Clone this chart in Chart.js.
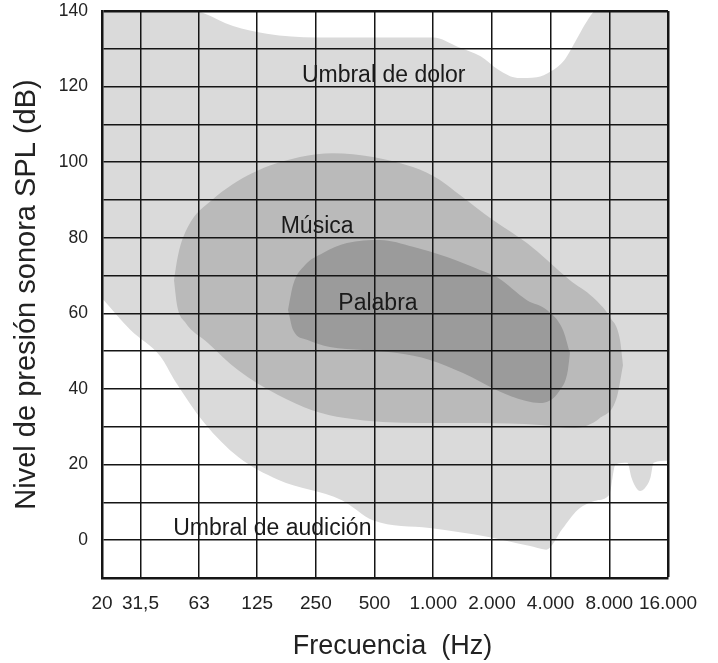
<!DOCTYPE html>
<html>
<head>
<meta charset="utf-8">
<script src="https://cdn.jsdelivr.net/npm/chart.js@4.4.1/dist/chart.umd.min.js"></script>
<style>
  html, body { margin: 0; padding: 0; background: #fff; }
  #wrap { width: 718px; height: 663px; position: relative; }
</style>
</head>
<body>
<div id="wrap"><canvas id="audioChart"></canvas></div>
<script>
// ===== axis ticks =====
const freqTicks = [20, 31.5, 63, 125, 250, 500, 1000, 2000, 4000, 8000, 16000];
const freqTickLabels = ["20", "31,5", "63", "125", "250", "500", "1.000", "2.000", "4.000", "8.000", "16.000"];
const dbTickLabels = [0, 20, 40, 60, 80, 100, 120, 140];

// ===== umbral de dolor (upper edge of the audible area) =====
const painFreq = [20, 60, 66, 94, 140, 250, 420, 1000, 1340, 1750, 2150, 2700, 3400, 4000, 4700, 5500, 6200, 6800, 16000];
const painDb   = [140, 140, 139.5, 136, 134, 133, 133, 133, 130.5, 128, 124.5, 122.3, 122.5, 124, 127, 133, 137.6, 140, 140];

// ===== umbral de audición (lower edge) =====
const hearFreq = [20, 28, 40, 47, 67, 100, 160, 340, 490, 960, 1950, 3100, 3800, 4600, 5500, 6900, 8000, 8600, 9900, 10400, 11000, 11500, 12200, 13000, 13500, 16000];
const hearDb   = [64, 55.6, 48.5, 42.4, 31, 22, 16, 10.6, 5.3, 3.2, 0.8, -1.5, -2.5, 3, 8, 10.5, 12, 20, 20.5, 16.5, 13.8, 13, 13.8, 16.5, 20.5, 21];

// ===== música zone =====
const musicTopFreq = [46.8, 49.1, 55.2, 73.3, 117.6, 207, 306, 491, 787, 1082, 1370, 2024, 3024, 5026, 6592, 8060, 9072, 9400];
const musicTopDb   = [68.8, 75.4, 82.9, 90, 97.1, 101.4, 102.4, 101.4, 98.7, 95.3, 91.3, 84.7, 78.6, 68.8, 64.3, 59, 53, 46.3];
const musicBotFreq = [46.8, 48.5, 53.3, 69.9, 99.6, 160, 239, 353, 854, 1736, 3526, 5330, 7160, 8754, 9400];
const musicBotDb   = [68.8, 62.2, 57.7, 52.2, 45, 38.4, 34.4, 32.3, 31, 31, 30.5, 29.7, 32.3, 37.9, 46.3];

// ===== palabra zone =====
const speechTopFreq = [180, 191, 220, 272, 361, 533, 787, 1176, 1736, 2121, 3024, 3830, 4628, 5026];
const speechTopDb   = [60.9, 67.5, 72.8, 76, 78.6, 79.4, 77.6, 74.9, 71.5, 69.6, 63.5, 60.9, 55.6, 49.5];
const speechBotFreq = [180, 191, 225, 295, 436, 652, 962, 1420, 2121, 3000, 3526, 4462, 4908, 5026];
const speechBotDb   = [60.9, 55.6, 53, 51.1, 50.3, 49.5, 47.7, 44.2, 39.7, 36.8, 36.3, 39.7, 45, 49.5];

// ===== zone labels (left edge / baseline, in Hz and dB) =====
const zoneLabels = ["Umbral de dolor", "Música", "Palabra", "Umbral de audición"];
const zoneLabelFreq = [212, 165, 326, 46.4];
const zoneLabelDb = [121.3, 81.2, 60.9, 1.4];

const FONT = "'Liberation Sans', Arial, Helvetica, sans-serif";
Chart.defaults.font.family = FONT;

const pts = (fs, ds) => fs.map((f, i) => ({ x: f, y: ds[i] }));

function area(data, color, order, fillTo) {
  return {
    data,
    backgroundColor: color,
    borderColor: "rgba(0,0,0,0)",
    borderWidth: 0,
    pointRadius: 0,
    cubicInterpolationMode: "monotone",
    fill: fillTo === undefined ? false : fillTo,
    order
  };
}

const zoneLabelPlugin = {
  id: "zoneLabels",
  afterDraw(chart) {
    const { ctx, scales: { x, y } } = chart;
    ctx.save();
    ctx.font = "23px " + FONT;
    ctx.fillStyle = "#1a1a1a";
    ctx.textAlign = "left";
    ctx.textBaseline = "alphabetic";
    zoneLabels.forEach((t, i) => {
      ctx.fillText(t, x.getPixelForValue(zoneLabelFreq[i]), y.getPixelForValue(zoneLabelDb[i]));
    });
    ctx.restore();
  }
};

const gridColor = "#151515";

new Chart(document.getElementById("audioChart"), {
  type: "line",
  data: {
    datasets: [
      area(pts(painFreq, painDb), "#dadada", 30, 1),
      area(pts(hearFreq, hearDb), "#dadada", 30),
      area(pts(musicTopFreq, musicTopDb), "#bababa", 20, 3),
      area(pts(musicBotFreq, musicBotDb), "#bababa", 20),
      area(pts(speechTopFreq, speechTopDb), "#9b9b9b", 10, 5),
      area(pts(speechBotFreq, speechBotDb), "#9b9b9b", 10)
    ]
  },
  options: {
    responsive: true,
    maintainAspectRatio: false,
    animation: false,
    layout: { padding: { top: 11, right: 50, left: 0, bottom: 0 } },
    plugins: { legend: { display: false }, tooltip: { enabled: false } },
    scales: {
      x: {
        type: "logarithmic",
        min: 20,
        max: 16000,
        afterBuildTicks: (s) => { s.ticks = freqTicks.map((v) => ({ value: v })); },
        afterFit: (s) => { s.height = 85; s.paddingLeft = 0; s.paddingRight = 0; },
        ticks: {
          autoSkip: false,
          maxRotation: 0,
          padding: 14,
          color: "#222",
          font: { size: 19 },
          callback: (v) => freqTickLabels[freqTicks.indexOf(v)]
        },
        grid: {
          color: gridColor,
          lineWidth: (c) => (c.tick && c.tick.value === 16000 ? 2.5 : 1.5),
          drawTicks: false,
          z: 1
        },
        border: { color: gridColor, width: 2.5, z: 2 },
        title: {
          display: true,
          text: "  Frecuencia  (Hz)",
          color: "#222",
          font: { size: 27 },
          padding: { top: 0, bottom: 0 }
        }
      },
      y: {
        min: -10,
        max: 140,
        afterFit: (s) => { s.width = 102; s.paddingTop = 0; s.paddingBottom = 0; },
        ticks: {
          stepSize: 10,
          padding: 14,
          color: "#222",
          font: { size: 17.5 },
          callback: (v) => (dbTickLabels.includes(v) ? String(v) : "")
        },
        grid: {
          color: gridColor,
          lineWidth: (c) => (c.tick && c.tick.value === 140 ? 2.5 : 1.5),
          drawTicks: false,
          z: 1
        },
        border: { color: gridColor, width: 2.5, z: 2 },
        title: {
          display: true,
          text: "Nivel de presión sonora SPL (dB)",
          color: "#222",
          font: { size: 29 },
          padding: { top: 10, bottom: 0 }
        }
      }
    }
  },
  plugins: [zoneLabelPlugin]
});
</script>
</body>
</html>
